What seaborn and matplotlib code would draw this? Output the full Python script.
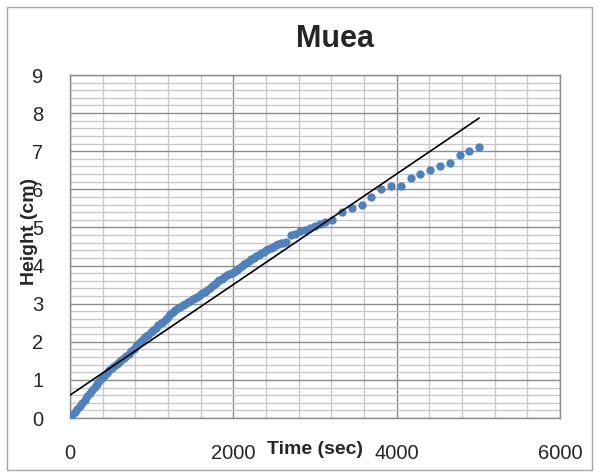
import numpy as np
import pandas as pd
import matplotlib
matplotlib.use("Agg")
import matplotlib.pyplot as plt
from matplotlib.ticker import MultipleLocator
from matplotlib.patches import Rectangle
import seaborn as sns

# readings taken off the chart (time in sec, height in cm)
time_sec = [0, 30, 60, 90, 120, 150, 180, 210, 240, 270,
            300, 330, 360, 390, 420, 450, 480, 510, 540, 570,
            600, 630, 660, 690, 720, 750, 780, 810, 840, 870,
            900, 930, 960, 990, 1020, 1050, 1080, 1110, 1140, 1170,
            1200, 1230, 1260, 1290, 1320, 1350, 1380, 1410, 1440, 1470,
            1500, 1530, 1560, 1590, 1620, 1650, 1680, 1710, 1740, 1770,
            1800, 1830, 1860, 1890, 1920, 1950, 1980, 2010, 2040, 2070,
            2100, 2130, 2160, 2190, 2220, 2250, 2280, 2310, 2340, 2370,
            2400, 2430, 2460, 2490, 2520, 2550, 2580, 2610, 2640,
            2700, 2760, 2820, 2880, 2940, 3000, 3060, 3120,
            3210, 3330, 3450, 3570, 3690, 3810, 3930, 4050, 4170, 4290,
            4410, 4530, 4650, 4770, 4890, 5010]
height_cm = [0.00, 0.07, 0.15, 0.24, 0.32, 0.40, 0.48, 0.57, 0.65, 0.73,
             0.81, 0.89, 0.97, 1.04, 1.11, 1.18, 1.25, 1.31, 1.37, 1.42,
             1.47, 1.52, 1.57, 1.62, 1.68, 1.75, 1.82, 1.90, 1.97, 2.03,
             2.09, 2.14, 2.19, 2.25, 2.31, 2.37, 2.43, 2.48, 2.53, 2.59,
             2.65, 2.72, 2.78, 2.83, 2.88, 2.92, 2.96, 3.00, 3.04, 3.08,
             3.11, 3.14, 3.18, 3.22, 3.27, 3.31, 3.36, 3.41, 3.46, 3.51,
             3.56, 3.61, 3.66, 3.70, 3.74, 3.77, 3.80, 3.84, 3.88, 3.93,
             3.98, 4.03, 4.08, 4.13, 4.17, 4.21, 4.25, 4.29, 4.32, 4.36,
             4.40, 4.44, 4.47, 4.50, 4.53, 4.56, 4.58, 4.60, 4.62,
             4.80, 4.84, 4.90, 4.93, 4.99, 5.03, 5.10, 5.15,
             5.20, 5.40, 5.50, 5.60, 5.79, 6.00, 6.10, 6.10, 6.29, 6.40,
             6.50, 6.60, 6.70, 6.90, 7.00, 7.11]

# linear trendline as drawn on the chart (end points)
trend_t = [0, 5010]
trend_h = [0.60, 7.87]

chart_title = "Muea"
x_title = "Time (sec)"
y_title = "Height (cm)"

df = pd.DataFrame({"t": time_sec, "h": height_cm})
trend = pd.DataFrame({"t": trend_t, "h": trend_h})

sns.set_style("white")
plt.rcParams["font.family"] = ["Liberation Sans", "DejaVu Sans"]

fig = plt.figure(figsize=(5.99, 4.75), dpi=100)
ax = fig.add_axes([70 / 599, 1 - 418 / 475, 490 / 599, 343 / 475])

# chart border
fig.patches.append(Rectangle((7 / 599, 5 / 475), 585 / 599, 463 / 475,
                             transform=fig.transFigure, fill=False,
                             edgecolor="#a6a6a6", linewidth=1.0))

sns.scatterplot(data=df, x="t", y="h", ax=ax, color="#4f81bd", s=36,
                edgecolor="#4f81bd", linewidth=0, zorder=3, legend=False)
sns.lineplot(data=trend, x="t", y="h", ax=ax, color="black", linewidth=1.2,
             zorder=4, legend=False)

ax.set_xlim(0, 6000)
ax.set_ylim(0, 9)
ax.xaxis.set_major_locator(MultipleLocator(2000))
ax.xaxis.set_minor_locator(MultipleLocator(400))
ax.yaxis.set_major_locator(MultipleLocator(1))
ax.yaxis.set_minor_locator(MultipleLocator(0.2))

ax.grid(which="major", color="#8c8c8c", linewidth=1.0, zorder=0)
ax.grid(which="minor", color="#c8c8c8", linewidth=1.0, zorder=0)
ax.set_axisbelow(True)
for sp in ax.spines.values():
    sp.set_color("#8c8c8c")
    sp.set_linewidth(1.0)

ax.tick_params(which="minor", length=0)
ax.tick_params(axis="x", which="major", length=5, color="#8c8c8c", pad=14, labelsize=14.5)
ax.tick_params(axis="y", which="major", length=6, color="#8c8c8c", pad=13, labelsize=14.5)

ax.set_title(chart_title, fontsize=22, fontweight="bold", pad=0,
             x=265 / 490, y=(418 - 39) / 343, va="center")

ax.set_xlabel(x_title, fontsize=14, fontweight="bold")
ax.xaxis.label.set_va("center")
ax.xaxis.set_label_coords((315 - 70) / 490, (418 - 450) / 343)
ax.set_ylabel(y_title, fontsize=14, fontweight="bold")
ax.yaxis.label.set_va("center")
ax.yaxis.set_label_coords((30 - 70) / 490, (418 - 231) / 343)

fig.savefig("out.png", dpi=100)
